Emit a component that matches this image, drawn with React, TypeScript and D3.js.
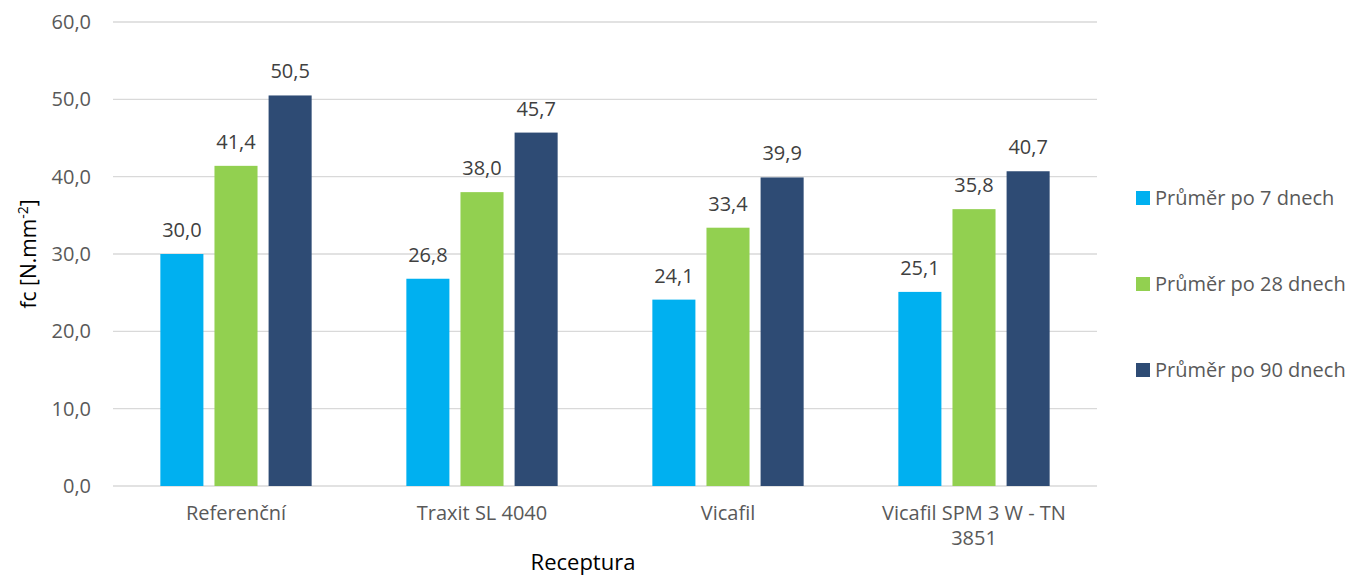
import React from "react";
import * as d3 from "d3";

const categories = ["Referenční", "Traxit SL 4040", "Vicafil", "Vicafil SPM 3 W - TN 3851"];
const categoryLines = [["Referenční"], ["Traxit SL 4040"], ["Vicafil"], ["Vicafil SPM 3 W - TN", "3851"]];
const seriesNames = ["Průměr po 7 dnech", "Průměr po 28 dnech", "Průměr po 90 dnech"];
const seriesColors = ["#00B0F0", "#92D050", "#2E4B74"];
const s7 = [30.0, 26.8, 24.1, 25.1];
const s28 = [41.4, 38.0, 33.4, 35.8];
const s90 = [50.5, 45.7, 39.9, 40.7];
const series = [s7, s28, s90];
const yTicks = [0, 10, 20, 30, 40, 50, 60];

const W = 1357, H = 576;
const left = 113, right = 1097, top = 22, bottom = 486;
const font = "'Open Sans', 'DejaVu Sans', sans-serif";
const textColor = "#595959";

export default function App() {
  const x = d3.scaleBand<string>().domain(categories).range([left, right]).paddingInner(0).paddingOuter(0);
  const y = d3.scaleLinear().domain([0, 60]).range([bottom, top]);
  const bw = x.bandwidth();
  const barW = bw * 0.175;
  const gap = bw * 0.045;
  const fmt = (v: number) => d3.format(".1f")(v).replace(".", ",");

  return (
    <svg width={W} height={H} style={{ position: "absolute", left: 0, top: 0 }} fontFamily={font}>
      <rect width={W} height={H} fill="#fff" />
      {yTicks.map((t) => (
        <g key={t}>
          <line x1={left} x2={right} y1={y(t)} y2={y(t)} stroke="#D9D9D9" strokeWidth={1.3} />
          <text x={91} y={y(t)} dy="0.35em" textAnchor="end" fontSize={20} fill={textColor}>
            {fmt(t)}
          </text>
        </g>
      ))}
      {categories.map((c, ci) => {
        const cx = (x(c) as number) + bw / 2;
        const groupW = 3 * barW + 2 * gap;
        return (
          <g key={c}>
            {series.map((s, si) => {
              const bx = cx - groupW / 2 + si * (barW + gap);
              const v = s[ci];
              return (
                <g key={si}>
                  <rect x={bx} y={y(v)} width={barW} height={y(0) - y(v)} fill={seriesColors[si]} />
                  <text x={bx + barW / 2} y={y(v) - 17} textAnchor="middle" fontSize={20} fill="#404040">
                    {fmt(v)}
                  </text>
                </g>
              );
            })}
            {categoryLines[ci].map((ln, li) => (
              <text key={li} x={cx} y={y(0) + 34 + li * 25} textAnchor="middle" fontSize={20} fill={textColor}>
                {ln}
              </text>
            ))}
          </g>
        );
      })}
      <text transform={`translate(36,${(top + bottom) / 2}) rotate(-90)`} textAnchor="middle" fontSize={21} fill="#000">
        fc [N.mm<tspan dy={-8} fontSize={14}>-2</tspan><tspan dy={8}>]</tspan>
      </text>
      <text x={583} y={570} textAnchor="middle" fontSize={22} fill="#000">
        Receptura
      </text>
      {seriesNames.map((n, i) => (
        <g key={n} transform={`translate(1136,${198 + i * 86})`}>
          <rect x={0} y={-7} width={14} height={14} fill={seriesColors[i]} />
          <text x={19} y={0} dy="0.35em" fontSize={20} fill={textColor}>
            {n}
          </text>
        </g>
      ))}
    </svg>
  );
}
